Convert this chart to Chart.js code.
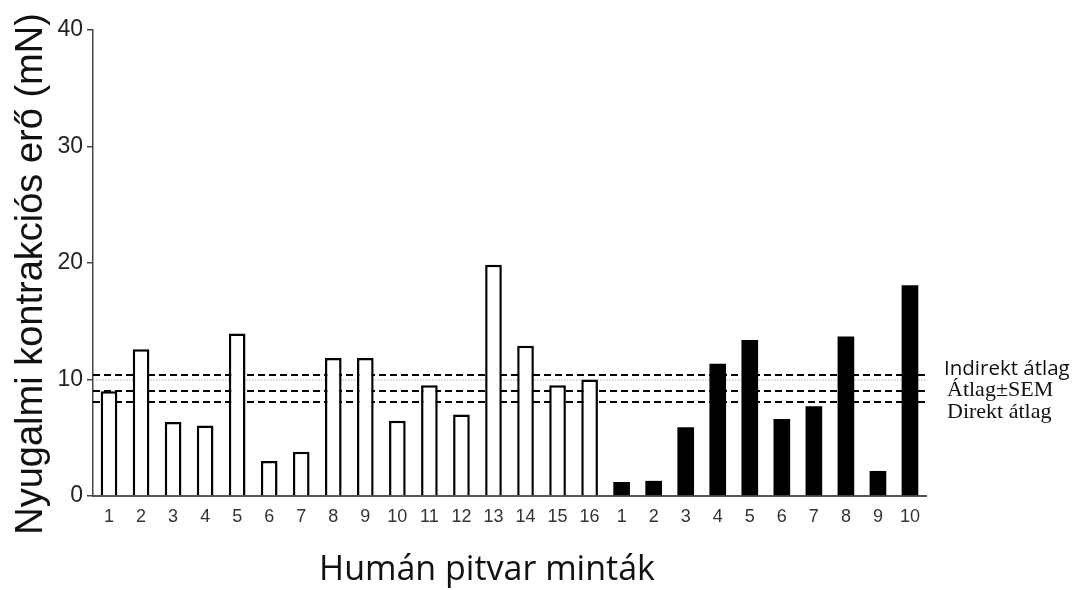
<!DOCTYPE html>
<html>
<head>
<meta charset="utf-8">
<script src="https://cdn.jsdelivr.net/npm/chart.js@4.4.1/dist/chart.umd.min.js"></script>
<style>
  html, body { margin: 0; padding: 0; background: #fff; }
  #wrap { width: 1073px; height: 590px; }
</style>
</head>
<body>
<div id="wrap"><canvas id="c" width="1073" height="590"></canvas></div>
<script>
// Category labels: 16 indirect samples followed by 10 direct samples
const mintaCimkek = ['1','2','3','4','5','6','7','8','9','10','11','12','13','14','15','16',
                     '1','2','3','4','5','6','7','8','9','10'];
// Resting contraction force (mN) per sample
const indirektErtekek = [9.0, 12.6, 6.35, 6.05, 13.95, 3.0, 3.8, 11.85, 11.85, 6.45, 9.5, 7.0, 19.85, 12.9, 9.5, 10.0];
const direktErtekek = [1.2, 1.3, 5.9, 11.35, 13.4, 6.6, 7.7, 13.7, 2.15, 18.1];
// Horizontal reference lines: indirect mean, mean, mean (SEM band), direct mean
const atlagVonalak = [10.37, 9.95, 8.97, 8.03];
const yTickek = [0, 10, 20, 30, 40];
const jelmagyarazat = ['Indirekt átlag', 'Átlag±SEM', 'Direkt átlag'];

const nIndirekt = indirektErtekek.length;
const nDirekt = direktErtekek.length;
const feherAdat = indirektErtekek.concat(new Array(nDirekt).fill(null));
const feketeAdat = new Array(nIndirekt).fill(null).concat(direktErtekek);

const vonalStilus = [
  { color: '#000', width: 2, dash: [7, 4] },
  { color: '#b0b0b0', width: 1, dash: [1.5, 1.5] },
  { color: '#000', width: 2, dash: [7, 4] },
  { color: '#000', width: 2, dash: [7, 4] }
];

// Dashed mean lines, drawn behind the bars
const atlagPlugin = {
  id: 'atlagVonalak',
  beforeDatasetsDraw(chart) {
    const { ctx, chartArea, scales } = chart;
    ctx.save();
    atlagVonalak.forEach((v, i) => {
      const s = vonalStilus[i];
      const y = Math.round(scales.y.getPixelForValue(v));
      ctx.beginPath();
      ctx.strokeStyle = s.color;
      ctx.lineWidth = s.width;
      ctx.setLineDash(s.dash);
      ctx.moveTo(chartArea.left, y);
      ctx.lineTo(chartArea.right + 1, y);
      ctx.stroke();
    });
    ctx.restore();
  }
};

// Axis titles and the line legend on the right
const szovegPlugin = {
  id: 'szovegek',
  afterDraw(chart) {
    const { ctx } = chart;
    ctx.save();
    ctx.fillStyle = '#111';
    // y title
    ctx.save();
    ctx.translate(42, 274);
    ctx.rotate(-Math.PI / 2);
    ctx.font = '38px "Liberation Sans", Arial, sans-serif';
    ctx.textAlign = 'center';
    ctx.textBaseline = 'alphabetic';
    ctx.fillText('Nyugalmi kontrakciós erő (mN)', 0, 0);
    ctx.restore();
    // x title
    ctx.font = '34px "Open Sans", sans-serif';
    ctx.textAlign = 'center';
    ctx.textBaseline = 'alphabetic';
    ctx.fillText('Humán pitvar minták', 487, 580);
    // legend
    ctx.textAlign = 'left';
    ctx.font = '20.5px "Open Sans", sans-serif';
    ctx.fillText(jelmagyarazat[0], 944, 375);
    ctx.font = '22px "Liberation Serif", "Times New Roman", serif';
    ctx.fillText(jelmagyarazat[1], 947, 396);
    ctx.fillText(jelmagyarazat[2], 947, 418);
    ctx.restore();
  }
};

new Chart(document.getElementById('c'), {
  type: 'bar',
  data: {
    labels: mintaCimkek,
    datasets: [
      {
        label: 'Indirekt',
        data: feherAdat,
        backgroundColor: '#fff',
        borderColor: '#000',
        borderWidth: 2.5,
        borderSkipped: 'bottom'
      },
      {
        label: 'Direkt',
        data: feketeAdat,
        backgroundColor: '#000',
        borderColor: '#000',
        borderWidth: 0
      }
    ]
  },
  options: {
    responsive: false,
    animation: false,
    grouped: false,
    barPercentage: 0.52,
    categoryPercentage: 1,
    layout: { padding: { top: 30, right: 147, left: 0, bottom: 0 } },
    plugins: { legend: { display: false }, tooltip: { enabled: false } },
    scales: {
      x: {
        grid: { display: false, drawTicks: false },
        border: { display: true, color: '#555', width: 2 },
        ticks: {
          autoSkip: false,
          maxRotation: 0,
          padding: 10,
          color: '#333',
          font: { family: '"Liberation Sans", Arial, sans-serif', size: 18 }
        },
        afterFit(scale) { scale.height = 94; }
      },
      y: {
        min: 0,
        max: 40,
        afterBuildTicks(scale) { scale.ticks = yTickek.map(v => ({ value: v })); },
        grid: { display: true, drawOnChartArea: false, drawTicks: true, tickLength: 6, color: '#444', lineWidth: 1.5 },
        border: { display: true, color: '#444', width: 1.5 },
        ticks: {
          padding: 4,
          color: '#222',
          font: { family: '"Liberation Sans", Arial, sans-serif', size: 23 }
        },
        afterFit(scale) { scale.width = 93; }
      }
    }
  },
  plugins: [atlagPlugin, szovegPlugin]
});
</script>
</body>
</html>
